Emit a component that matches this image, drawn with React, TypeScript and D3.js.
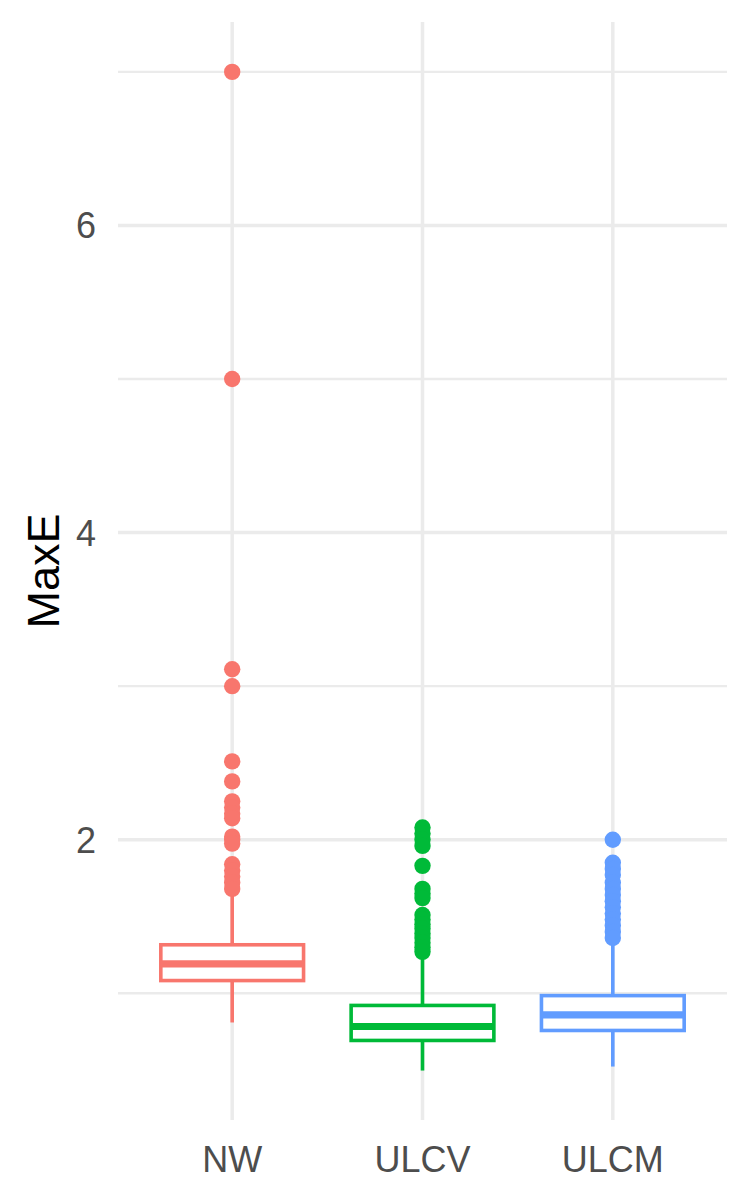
import React from "react";
import * as d3 from "d3";

// categories and box statistics
const groups = ["NW", "ULCV", "ULCM"];
const colors = ["#F8766D", "#00BA38", "#619CFF"];
const lowWhisker = [0.81, 0.497, 0.523];
const q1 = [1.083, 0.693, 0.758];
const median = [1.192, 0.784, 0.86];
const q3 = [1.316, 0.921, 0.985];
const highWhisker = [1.66, 1.26, 1.32];
const outliersNW = [7.0, 5.0, 3.11, 3.0, 2.51, 2.38, 2.25, 2.21, 2.17, 2.14, 2.02, 2.0, 1.975, 1.84, 1.8, 1.76, 1.72, 1.68];
const outliersULCV = [2.08, 2.04, 2.0, 1.96, 1.83, 1.68, 1.65, 1.62, 1.51, 1.48, 1.45, 1.42, 1.39, 1.36, 1.33, 1.3, 1.27];
const outliersULCM = [2.0, 1.85, 1.81, 1.77, 1.72, 1.68, 1.64, 1.6, 1.56, 1.52, 1.48, 1.44, 1.4, 1.36];
const outliers = [outliersNW, outliersULCV, outliersULCM];
const majorTicks = [2, 4, 6];
const minorTicks = [1, 3, 5, 7];
const yTitle = "MaxE";

export default function App() {
  const width = 750;
  const height = 1200;
  const panel = { left: 118, right: 727, top: 22, bottom: 1120 };

  const x = d3.scalePoint<string>()
    .domain(groups)
    .range([panel.left, panel.right])
    .padding(0.6);

  // data range 0.497..7 with 5% expansion
  const y = d3.scaleLinear()
    .domain([0.175, 7.325])
    .range([panel.bottom, panel.top]);

  const boxHalf = (x.step() * 0.75) / 2;
  const grid = "#EBEBEB";
  const font = "'Liberation Sans', Arial, sans-serif";

  return (
    <svg width={width} height={height} style={{ position: "absolute", left: 0, top: 0, background: "#fff" }}>
      {/* grid */}
      {minorTicks.map(t => (
        <line key={"mn" + t} x1={panel.left} x2={panel.right} y1={y(t)} y2={y(t)} stroke={grid} strokeWidth={2.4} />
      ))}
      {majorTicks.map(t => (
        <line key={"mj" + t} x1={panel.left} x2={panel.right} y1={y(t)} y2={y(t)} stroke={grid} strokeWidth={3.5} />
      ))}
      {groups.map(g => (
        <line key={"vg" + g} x1={x(g)} x2={x(g)} y1={panel.top} y2={panel.bottom} stroke={grid} strokeWidth={3.5} />
      ))}

      {/* boxes */}
      {groups.map((g, i) => {
        const cx = x(g) as number;
        const c = colors[i];
        return (
          <g key={"box" + g}>
            <line x1={cx} x2={cx} y1={y(q3[i])} y2={y(highWhisker[i])} stroke={c} strokeWidth={3.6} />
            <line x1={cx} x2={cx} y1={y(q1[i])} y2={y(lowWhisker[i])} stroke={c} strokeWidth={3.6} />
            <rect
              x={cx - boxHalf}
              y={y(q3[i])}
              width={boxHalf * 2}
              height={y(q1[i]) - y(q3[i])}
              fill="#fff"
              stroke={c}
              strokeWidth={3.6}
            />
            <line x1={cx - boxHalf} x2={cx + boxHalf} y1={y(median[i])} y2={y(median[i])} stroke={c} strokeWidth={7.2} />
            {outliers[i].map((v, j) => (
              <circle key={j} cx={cx} cy={y(v)} r={8.2} fill={c} />
            ))}
          </g>
        );
      })}

      {/* y axis labels */}
      {majorTicks.map(t => (
        <text key={"yl" + t} x={96} y={y(t)} dy="0.36em" textAnchor="end" fontFamily={font} fontSize={36} fill="#4D4D4D">
          {t}
        </text>
      ))}
      {/* x axis labels */}
      {groups.map(g => (
        <text key={"xl" + g} x={x(g)} y={1172} textAnchor="middle" fontFamily={font} fontSize={36} fill="#4D4D4D">
          {g}
        </text>
      ))}
      <text
        transform={`translate(59,${(panel.top + panel.bottom) / 2}) rotate(-90)`}
        textAnchor="middle"
        fontFamily={font}
        fontSize={45}
        fill="#000"
      >
        {yTitle}
      </text>
    </svg>
  );
}
